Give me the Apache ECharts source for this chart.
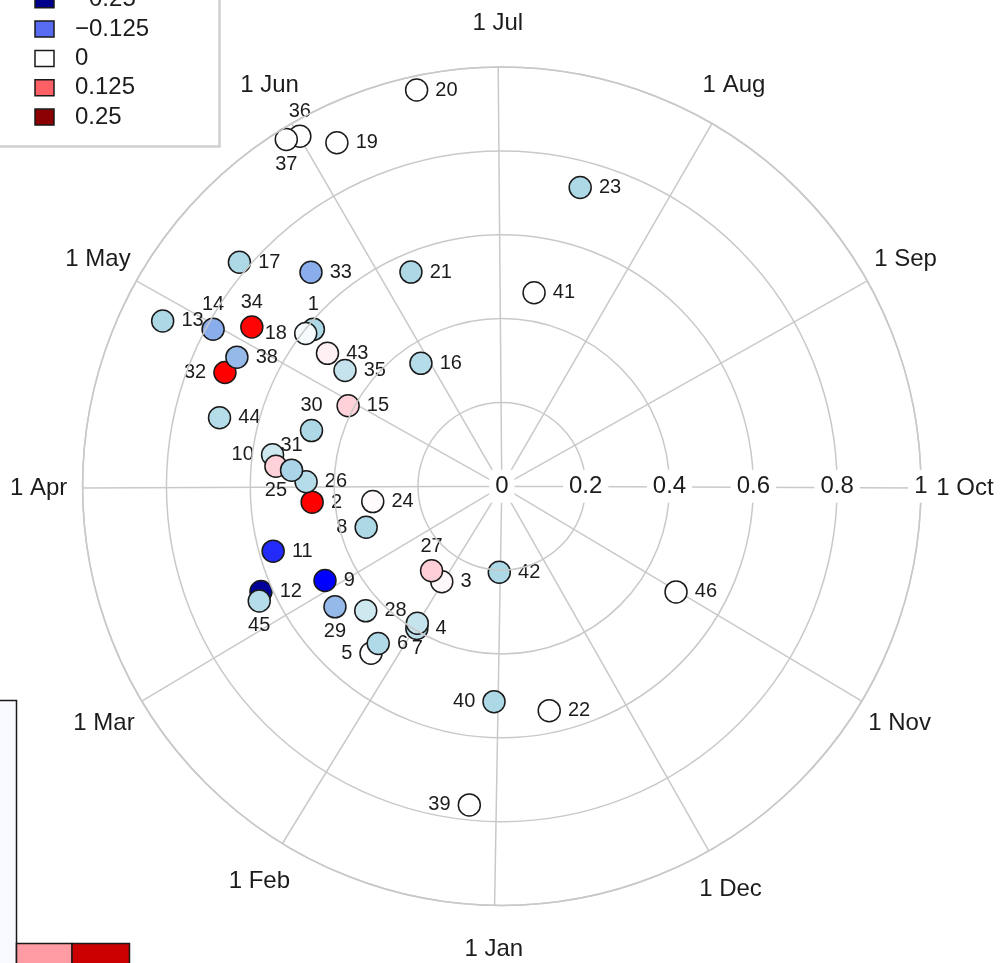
<!DOCTYPE html>
<html>
<head>
<meta charset="utf-8">
<script src="https://cdn.jsdelivr.net/npm/echarts@6/dist/echarts.min.js"></script>
<style>
  html, body { margin: 0; padding: 0; background: #ffffff; }
  #chart { width: 1001px; height: 963px; }
</style>
</head>
<body>
<div id="chart"></div>
<script>
// Month spokes: day of year of each month start
const MONTH_LABELS = ['1 Jan', '1 Feb', '1 Mar', '1 Apr', '1 May', '1 Jun',
                      '1 Jul', '1 Aug', '1 Sep', '1 Oct', '1 Nov', '1 Dec'];
const MONTH_DAYS = [1, 32, 60, 91, 121, 152, 182, 213, 244, 274, 305, 335];

// Radial ticks
const RADIUS_TICKS = ['0', '0.2', '0.4', '0.6', '0.8', '1'];

// Colour scale
const LEGEND_VALUES = [-0.25, -0.125, 0, 0.125, 0.25];
const LEGEND_LABELS = ['\u22120.25', '\u22120.125', '0', '0.125', '0.25'];
const COLOR_STOPS = ['#00008B', '#0000FF', '#ADD8E6', '#FFFFFF', '#FFC0CB', '#FF0000', '#8B0000'];

// Sites: id, day of year, radial value, colour value, label side
const POINT_IDS = [1, 2, 3, 4, 5, 6, 7, 8, 9, 10, 11, 12, 13, 14, 15, 16, 17, 18, 19, 20, 21, 22, 23,
                   24, 25, 26, 27, 28, 29, 30, 31, 32, 33, 34, 35, 36, 37, 38, 39, 40, 41, 42, 43, 44, 45, 46];
const POINT_DAYS = [131.6, 86.4, 32.6, 31.3, 38.6, 38.7, 32.1, 74.2, 62.8, 99.2, 75.2, 67.3, 117.6, 120.2,
                    119.3, 148.7, 132.3, 129.7, 156.5, 170.2, 159.2, 352.9, 197.4, 84.4, 96.4, 92.6, 40.3,
                    48.2, 54.9, 107.8, 95.7, 113.9, 140.2, 124.2, 128.2, 152.1, 150.2, 117.6, 5.9, 2.1,
                    192.1, 1.7, 129.1, 105.1, 65.6, 305.4];
const POINT_RADII = [0.585, 0.454, 0.269, 0.395, 0.506, 0.477, 0.384, 0.338, 0.478, 0.552, 0.567, 0.627,
                     0.900, 0.784, 0.414, 0.351, 0.823, 0.593, 0.909, 0.967, 0.555, 0.547, 0.737, 0.310,
                     0.541, 0.467, 0.262, 0.440, 0.491, 0.473, 0.503, 0.714, 0.684, 0.707, 0.465, 0.964,
                     0.974, 0.703, 0.764, 0.514, 0.468, 0.205, 0.523, 0.693, 0.640, 0.486];
const POINT_VALUES = [-0.083, 0.167, 0.01, -0.07, 0, -0.08, -0.06, -0.083, -0.167, -0.05, -0.15, -0.24,
                      -0.083, -0.10, 0.06, -0.075, -0.083, -0.01, 0, 0, -0.083, 0, -0.083, 0.005, 0.06,
                      -0.075, 0.065, -0.05, -0.095, -0.083, -0.085, 0.167, -0.10, 0.165, -0.06, 0, 0,
                      -0.095, 0, -0.083, 0, -0.083, 0.02, -0.075, -0.075, 0];
const LABEL_SIDES = ['top', 'right', 'right', 'right', 'left', 'right', 'bottom', 'left', 'right', 'left',
                     'right', 'right', 'right', 'top', 'right', 'right', 'right', 'left', 'right', 'right',
                     'right', 'right', 'right', 'right', 'bottom', 'right', 'top', 'right', 'bottom', 'top',
                     'top', 'left', 'right', 'top', 'right', 'top', 'bottom', 'right', 'left', 'left',
                     'right', 'right', 'right', 'right', 'bottom', 'right'];

const TEXT_COLOR = '#1c1c1c';
const GRID_COLOR = '#c9c9c9';
const FONT = '"Liberation Sans", Arial, sans-serif';
// month names sit just outside the outer ring
const MONTH_LABEL_RADIUS = 1.105;

// The angle axis starts at the right-hand side (1 Oct) and runs clockwise over one year
const YEAR = 365;
const ANGLE_MIN = YEAR * 0.75;
const wrapDay = d => (d < ANGLE_MIN ? d + YEAR : d);
const monthTicks = MONTH_DAYS.map(wrapDay);

function hexToRgb(h) {
  return [parseInt(h.slice(1, 3), 16), parseInt(h.slice(3, 5), 16), parseInt(h.slice(5, 7), 16)];
}
function rampColor(v) {
  const t = Math.min(1, Math.max(0, (v + 0.25) / 0.5)) * (COLOR_STOPS.length - 1);
  const i = Math.min(COLOR_STOPS.length - 2, Math.floor(t));
  const f = t - i;
  const a = hexToRgb(COLOR_STOPS[i]), b = hexToRgb(COLOR_STOPS[i + 1]);
  const c = a.map((x, k) => Math.round(x + (b[k] - x) * f));
  return 'rgb(' + c.join(',') + ')';
}

const scatterData = POINT_IDS.map((id, i) => {
  const side = LABEL_SIDES[i];
  return {
    value: [POINT_RADII[i], wrapDay(POINT_DAYS[i]), POINT_VALUES[i], id],
    label: { position: side, distance: (side === 'left' || side === 'right') ? 7 : 3 }
  };
});

const monthLabelData = MONTH_LABELS.map((m, i) => ({
  name: m,
  value: [MONTH_LABEL_RADIUS, monthTicks[i]]
}));

// Legend box (colour key) in the upper-left corner
const legendGraphics = [{
  type: 'rect', shape: { x: -10, y: -10, width: 229.5, height: 156.5 },
  style: { fill: '#ffffff', stroke: '#cfcfcf', lineWidth: 2.5 }, z: 10
}];
LEGEND_VALUES.forEach((v, i) => {
  const cy = -0.3 + 29.35 * i;
  legendGraphics.push({
    type: 'rect', shape: { x: 35, y: cy - 8, width: 19, height: 16 },
    style: { fill: rampColor(v), stroke: '#1a1a1a', lineWidth: 1.5 }, z: 11
  });
  legendGraphics.push({
    type: 'text', x: 75, y: cy,
    style: { text: LEGEND_LABELS[i], fill: TEXT_COLOR, font: '24px ' + FONT, verticalAlign: 'middle', align: 'left' },
    z: 11
  });
});

// Neighbouring panel edge in the lower-left corner
const panelGraphics = [
  { type: 'rect', shape: { x: -5, y: 700.5, width: 21.5, height: 280 },
    style: { fill: '#f8faff', stroke: '#1a1a1a', lineWidth: 1.5 }, z: 10 },
  { type: 'rect', shape: { x: 16.5, y: 943.5, width: 55.5, height: 30 },
    style: { fill: '#ff9ba3', stroke: '#1a1a1a', lineWidth: 1.5 }, z: 10 },
  { type: 'rect', shape: { x: 72, y: 943.5, width: 57.5, height: 30 },
    style: { fill: '#cc0000', stroke: '#1a1a1a', lineWidth: 1.5 }, z: 10 }
];

const chart = echarts.init(document.getElementById('chart'), null, { renderer: 'canvas' });
chart.setOption({
  animation: false,
  backgroundColor: '#ffffff',
  textStyle: { fontFamily: FONT },
  polar: { center: [501.8, 486.3], radius: 419.2 },
  angleAxis: {
    type: 'value',
    min: ANGLE_MIN,
    max: ANGLE_MIN + YEAR,
    startAngle: 0,
    clockwise: true,
    z: 1,
    axisLine: { show: true, lineStyle: { color: GRID_COLOR, width: 1.5 } },
    axisTick: { show: false, customValues: monthTicks },
    splitLine: { show: true, lineStyle: { color: GRID_COLOR, width: 1.5 } },
    axisLabel: { show: false, customValues: monthTicks }
  },
  radiusAxis: {
    type: 'value',
    min: 0,
    max: 1,
    interval: 0.2,
    z: 5,
    axisLine: { show: false },
    axisTick: { show: false },
    splitLine: { show: true, lineStyle: { color: GRID_COLOR, width: 1.5 } },
    axisLabel: {
      formatter: v => RADIUS_TICKS[Math.round(v / 0.2)],
      margin: 0,
      align: 'center',
      verticalAlign: 'middle',
      fontSize: 24,
      color: TEXT_COLOR,
      backgroundColor: '#ffffff',
      padding: [9, 6, 0, 6]
    }
  },
  visualMap: {
    type: 'continuous',
    show: false,
    seriesIndex: 0,
    dimension: 2,
    min: -0.25,
    max: 0.25,
    inRange: { color: COLOR_STOPS }
  },
  series: [{
    type: 'scatter',
    coordinateSystem: 'polar',
    symbol: 'circle',
    symbolSize: 22,
    z: 3,
    itemStyle: { borderColor: '#1a1a1a', borderWidth: 1.5, opacity: 1 },
    label: {
      show: true,
      formatter: p => String(p.value[3]),
      fontSize: 20,
      color: TEXT_COLOR,
      fontFamily: FONT
    },
    data: scatterData
  }, {
    // month names
    type: 'scatter',
    coordinateSystem: 'polar',
    clip: false,
    silent: true,
    symbol: 'circle',
    symbolSize: 0,
    z: 2,
    itemStyle: { color: TEXT_COLOR, borderWidth: 0 },
    label: {
      show: true,
      position: 'inside',
      formatter: p => p.name,
      fontSize: 24,
      color: TEXT_COLOR,
      opacity: 1,
      textBorderWidth: 0,
      fontFamily: FONT
    },
    data: monthLabelData
  }],
  graphic: legendGraphics.concat(panelGraphics)
});
</script>
</body>
</html>
